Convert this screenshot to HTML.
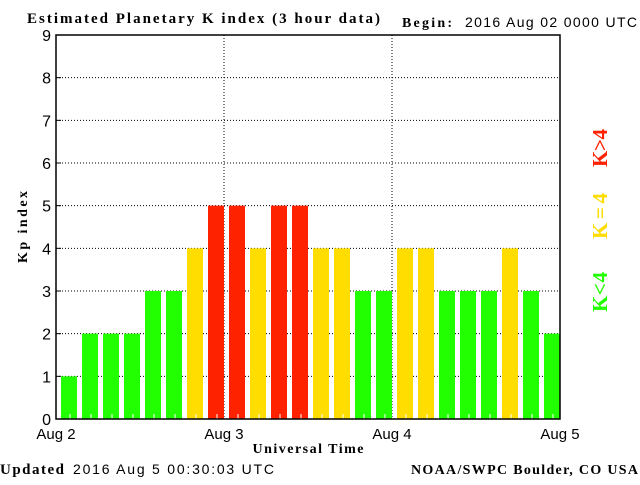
<!DOCTYPE html>
<html><head><meta charset="utf-8"><style>
body{margin:0;background:#fff;width:640px;height:480px;overflow:hidden}
svg text{font-family:"Liberation Sans",sans-serif}
.s{font-family:"Liberation Serif",serif;font-weight:bold}
</style></head><body>
<svg id="c" width="640" height="480" xmlns="http://www.w3.org/2000/svg">
<text class="s" x="27" y="23" font-size="15" textLength="353" lengthAdjust="spacing">Estimated Planetary K index (3 hour data)</text>
<text class="s" x="402" y="27" font-size="14" textLength="50">Begin:</text>
<text x="465" y="27" font-size="14" textLength="172" lengthAdjust="spacing">2016 Aug 02 0000 UTC</text>
<text class="s" x="0" y="474" font-size="15" textLength="64">Updated</text>
<text x="73" y="474" font-size="14" textLength="201" lengthAdjust="spacing">2016 Aug  5 00:30:03 UTC</text>
<text class="s" x="411" y="474" font-size="14" textLength="227" lengthAdjust="spacing">NOAA/SWPC Boulder, CO USA</text>
<text class="s" x="308" y="453" font-size="14" text-anchor="middle" textLength="111">Universal Time</text>
<text class="s" transform="translate(27,227) rotate(-90)" font-size="14" text-anchor="middle" textLength="72">Kp index</text>
<g id="grid"></g><g id="bars"></g><g id="axes"></g>
<text class="s" transform="translate(607,148) rotate(-90)" font-size="21" fill="#ff2200" text-anchor="middle" textLength="38">K&gt;4</text>
<text class="s" transform="translate(607,216) rotate(-90)" font-size="21" fill="#ffdd00" text-anchor="middle" textLength="46">K=4</text>
<text class="s" transform="translate(607,292) rotate(-90)" font-size="21" fill="#22ff00" text-anchor="middle" textLength="40">K&lt;4</text>
</svg>
<script>
const kpValues=[1,2,2,2,3,3,4,5,5,4,5,5,4,4,3,3,4,4,3,3,3,4,3,2];
const yTicks=[0,1,2,3,4,5,6,7,8,9];
const dayLabels=["Aug 2","Aug 3","Aug 4","Aug 5"];
const NS="http://www.w3.org/2000/svg";
const L=56,R=560,T=35,B=419;
const slot=(R-L)/kpValues.length;
const y=v=>B-(B-T)*v/9;
const x=i=>L+i*slot;
const dx=d=>L+d*(R-L)/(dayLabels.length-1);
function mk(tag,p,par){const e=document.createElementNS(NS,tag);for(const k in p)e.setAttribute(k,p[k]);document.getElementById(par).appendChild(e);return e;}
yTicks.forEach(t=>{
 if(t>0&&t<9){const g=mk('line',{x1:L,x2:R,y1:y(t),y2:y(t),stroke:'#000','stroke-dasharray':'1,2'},'grid');
 
 }
 const lb=mk('text',{x:L-5,y:y(t)+6,'font-size':16,'text-anchor':'end'},'axes');lb.textContent=t;
 
 
 mk('line',{x1:L,x2:L+5,y1:y(t),y2:y(t),stroke:'#000'},'axes');
});
dayLabels.forEach((d,i)=>{
 if(i>0&&i<dayLabels.length-1){const g=mk('line',{x1:dx(i),x2:dx(i),y1:T,y2:B,stroke:'#000','stroke-dasharray':'1,2'},'grid');
 
 }
 const lb=mk('text',{x:dx(i),y:439,'font-size':15,'text-anchor':'middle'},'axes');lb.textContent=d;
 
 
});
kpValues.forEach((v,i)=>{
 const col=v<4?'#22ff00':(v==4?'#ffdd00':'#ff2200');
 const r=mk('rect',{x:x(i)+5,y:y(v),width:slot-5,height:B-y(v),fill:col},'bars');
 
 
});
for(let i=0;i<kpValues.length;i++){mk('line',{x1:x(i)+14,x2:x(i)+14,y1:B-5,y2:B,stroke:'#fff'},'bars');}
const ax=mk('rect',{x:L,y:T,width:R-L,height:B-T,fill:'none',stroke:'#000','stroke-width':1.5},'axes');


</script>
</body></html>
